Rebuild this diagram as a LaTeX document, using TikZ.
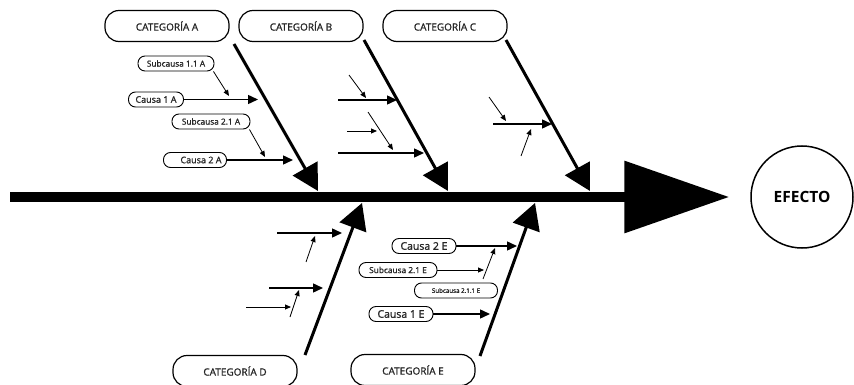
\documentclass[tikz,border=0pt]{standalone}
\usepackage{fontspec}
\setmainfont{Open Sans}
\newfontfamily\semib[FakeBold=1.3]{Open Sans}
\usetikzlibrary{arrows.meta,positioning,calc}

\tikzset{
  catbox/.style={draw, line width=1.2pt, rounded corners=14pt, minimum width=124pt, minimum height=31pt, inner sep=0pt, font=\semib\fontsize{10}{10}\selectfont, text=black!85},
  causebox/.style={draw, line width=0.9pt, rounded corners=7pt, minimum height=15pt, inner sep=0pt, font=\semib\fontsize{9}{9}\selectfont, text=black!85},
  subbox/.style={causebox, font=\semib\fontsize{8.3}{8}\selectfont},
  spine/.style={line width=10pt, -{Triangle[length=105pt, width=70pt]}},
  branch/.style={line width=3pt, -{Triangle[length=26pt, width=28pt]}},
  causearrow/.style={line width=1.4pt, -{Triangle[length=10pt, width=9pt]}},
  subarrow/.style={line width=0.8pt, -{Triangle[length=6pt, width=5pt]}}
}

\begin{document}
\begin{tikzpicture}[x=1pt, y=-1pt]
\useasboundingbox (0,0) rectangle (854,385);

% Effect
\node[draw, circle, line width=1.5pt, minimum size=102pt, inner sep=0pt, font=\fontsize{15.5}{16}\selectfont\bfseries] (effect) at (802,197) {EFECTO};

% Main spine
\coordinate (tail) at (10,197);
\draw[spine] (tail) -- ([xshift=-21pt]effect.west);

% Categories
\node[catbox] (catA) at (167,26) {CATEGORÍA A};
\node[catbox] (catB) at (301,26) {CATEGORÍA B};
\node[catbox] (catC) at (445,26) {CATEGORÍA C};
\node[catbox] (catD) at (235,371) {CATEGORÍA D};
\node[catbox] (catE) at (413,370) {CATEGORÍA E};

% Branches
\coordinate (aStart) at (234,44);  \coordinate (aTip) at (318,191);
\coordinate (bStart) at (364,40);  \coordinate (bTip) at (448,191);
\coordinate (cStart) at (506,40);  \coordinate (cTip) at (590,191);
\coordinate (dStart) at (305,355); \coordinate (dTip) at (362,203);
\coordinate (eStart) at (480,356); \coordinate (eTip) at (535,203);
\draw[branch] (aStart) -- (aTip);
\draw[branch] (bStart) -- (bTip);
\draw[branch] (cStart) -- (cTip);
\draw[branch] (dStart) -- (dTip);
\draw[branch] (eStart) -- (eTip);

% Category A
\node[subbox, minimum width=76pt] (sub11A) at (176,63.5) {Subcausa 1.1 A};
\node[causebox, minimum width=55pt] (cau1A) at (156,99.5) {Causa 1 A};
\node[subbox, minimum width=78pt] (sub21A) at (211,121.5) {Subcausa 2.1 A};
\node[causebox, minimum width=63pt] (cau2A) at (195,160) {\hspace{12pt}Causa 2 A};
\coordinate (a1) at (258,99.5);
\coordinate (a11) at (229,96);
\coordinate (a2) at (293,160);
\coordinate (a21) at (265,157);
\draw[causearrow] (cau1A) -- (a1);
\draw[subarrow] ([xshift=-1pt]sub11A.south east) -- (a11);
\draw[causearrow] (cau2A) -- (a2);
\draw[subarrow] ([xshift=-1pt]sub21A.south east) -- (a21);

% Category B
\coordinate (b1s) at (338,100);  \coordinate (b1) at (397,100);
\coordinate (b11s) at (349,75);  \coordinate (b11) at (366,98);
\coordinate (b2s) at (347,131);  \coordinate (b2) at (377,131);
\coordinate (b21s) at (368,112); \coordinate (b21) at (393,150);
\coordinate (b3s) at (338,153);  \coordinate (b3) at (424,153);
\draw[causearrow] (b1s) -- (b1);
\draw[subarrow] (b11s) -- (b11);
\draw[subarrow] (b2s) -- (b2);
\draw[subarrow] (b21s) -- (b21);
\draw[causearrow] (b3s) -- (b3);

% Category C
\coordinate (c1s) at (493,124);  \coordinate (c1) at (552,124);
\coordinate (c11s) at (489,97);  \coordinate (c11) at (506,121);
\coordinate (c12s) at (521,156); \coordinate (c12) at (531,129);
\draw[causearrow] (c1s) -- (c1);
\draw[subarrow] (c11s) -- (c11);
\draw[subarrow] (c12s) -- (c12);

% Category D
\coordinate (d1s) at (277,233);  \coordinate (d1) at (342,233);
\coordinate (d11s) at (306,262); \coordinate (d11) at (315,236);
\coordinate (d2s) at (269,288);  \coordinate (d2) at (323,288);
\coordinate (d21s) at (246,307); \coordinate (d21) at (291,307);
\coordinate (d22s) at (290,317); \coordinate (d22) at (299,290);
\draw[causearrow] (d1s) -- (d1);
\draw[subarrow] (d11s) -- (d11);
\draw[causearrow] (d2s) -- (d2);
\draw[subarrow] (d21s) -- (d21);
\draw[subarrow] (d22s) -- (d22);

% Category E
\node[causebox, minimum width=64pt, font=\semib\fontsize{10.5}{11}\selectfont] (cau2E) at (424,246) {Causa 2 E};
\node[subbox, minimum width=78pt, font=\semib\fontsize{8.3}{8}\selectfont] (sub21E) at (398,270) {Subcausa 2.1 E};
\node[subbox, minimum width=83pt, font=\semib\fontsize{6.2}{6}\selectfont] (sub211E) at (456,290.5) {Subcausa 2.1.1 E};
\node[causebox, minimum width=64pt, font=\semib\fontsize{10.5}{11}\selectfont] (cau1E) at (401,314) {Causa 1 E};
\coordinate (e2) at (517,246);
\coordinate (e21) at (484,270);
\coordinate (e211s) at (483,279); \coordinate (e211) at (495,248);
\coordinate (e1) at (490,314);
\draw[causearrow] (cau2E) -- (e2);
\draw[subarrow] (sub21E) -- (e21);
\draw[subarrow] (e211s) -- (e211);
\draw[causearrow] (cau1E) -- (e1);

\end{tikzpicture}
\end{document}
